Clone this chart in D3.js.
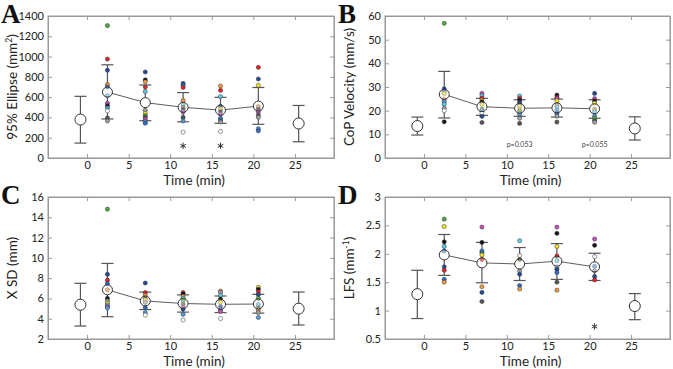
<!DOCTYPE html>
<html lang="en">
<head>
<meta charset="UTF-8">
<title>Posturography over time</title>
<script src="https://d3js.org/d3.v7.min.js"></script>
<style>
    body { margin: 0; background: #fff; }
    svg text { font-family: Lato, "Open Sans", sans-serif; fill: #222; }
    .letter { font-family: "Liberation Serif", "DejaVu Serif", serif; font-weight: bold; }
</style>
</head>
<body>
<div id="chart"></div>
<script>
// time of each measurement (min): baseline, five post-exercise, follow-up
const times = [-0.8, 2.45, 7.0, 11.55, 16.05, 20.6, 25.45];
const xTicks = [0, 5, 10, 15, 20, 25];

// one colour per subject
const subjectColors = {
    g: "#4cae3c", r: "#e8202a", n: "#1f4a9a", o: "#f39a3c", c: "#5ccbe6",
    l: "#4f9be0", b: "#2b6cc4", m: "#c74cc0", y: "#f2e41e", k: "#141414",
    d: "#555555", a: "#a0a0a0", w: "#ffffff", v: "#6b6330"
};

// A: 95% ellipse
const ellipseMean = [379, 650, 546, 500, 472, 512, 340];
const ellipseHi   = [608, 919, 720, 645, 598, 695, 518];
const ellipseLo   = [147, 385, 368, 357, 342, 332, 160];
const ellipseDots = [
    [["g",1305],["r",975],["n",865],["o",725],["b",700],["c",615],["m",540],["k",515],["l",495],["w",465],["d",395],["a",365]],
    [["n",848],["k",770],["o",752],["r",700],["c",656],["a",470],["y",440],["g",418],["d",400],["m",380],["l",358],["b",343]],
    [["n",735],["b",718],["r",695],["o",566],["c",525],["v",500],["k",478],["m",455],["d",400],["l",365],["w",255]],
    [["o",710],["r",667],["c",605],["n",508],["y",483],["k",457],["m",430],["l",391],["b",375],["a",355],["w",262]],
    [["r",894],["n",779],["y",716],["o",506],["k",480],["m",457],["d",424],["a",401],["l",289],["b",268]]
];
const ellipseStars = [[11.55, 120], [16.05, 120]];

// B: CoP velocity
const velocityMean = [13.5, 26.9, 21.7, 21.0, 21.2, 20.8, 12.5];
const velocityHi   = [17.3, 36.6, 25.2, 24.6, 24.9, 24.6, 17.4];
const velocityLo   = [9.7, 16.9, 18.0, 17.6, 17.3, 16.8, 7.6];
const velocityDots = [
    [["g",56.9],["n",29.2],["b",28.3],["y",27.3],["o",24.8],["l",23.8],["c",22.7],["a",21],["w",20],["k",15.3]],
    [["m",27.3],["c",26.3],["r",25.3],["o",24.5],["k",23.7],["y",22.7],["g",20.7],["l",19.9],["w",18.9],["n",17.6],["d",15.0]],
    [["c",26.2],["r",25.2],["k",24.5],["n",23.4],["b",22.6],["y",21.8],["o",20.3],["g",19.5],["l",18.5],["a",16.8],["d",14.6]],
    [["k",26.6],["r",25.6],["m",25.1],["y",24.2],["o",22.4],["c",21.6],["l",20.3],["b",18.9],["a",17.7],["d",15.2]],
    [["n",27.3],["m",25.1],["k",24.1],["y",23.2],["o",20.6],["c",19.5],["l",17.7],["g",16.8],["d",15.8],["a",15.1]]
];
const velocityNotes = [[11.55, 5.5, "p=0.053"], [20.6, 5.5, "p=0.055"]];

// C: X SD
const xsdMean = [5.38, 6.85, 5.75, 5.5, 5.42, 5.45, 4.99];
const xsdHi   = [7.49, 9.45, 6.62, 6.35, 6.24, 6.4, 6.63];
const xsdLo   = [3.28, 4.2, 4.9, 4.65, 4.6, 4.55, 3.38];
const xsdDots = [
    [["g",14.8],["n",8.38],["r",7.8],["b",7.45],["o",6.85],["k",6.0],["a",5.75],["y",5.55],["c",5.35],["m",5.2],["l",5.05]],
    [["n",7.52],["r",6.57],["o",6.3],["k",6.0],["y",5.85],["a",5.6],["b",5.09],["l",4.6],["w",4.35]],
    [["r",6.57],["k",6.45],["o",6.2],["c",6.0],["g",5.75],["v",5.4],["m",5.12],["n",4.95],["l",4.43],["w",3.87]],
    [["o",6.72],["a",6.6],["c",6.3],["k",5.94],["y",5.62],["n",5.2],["b",4.85],["m",4.72],["w",4.02]],
    [["y",7.1],["k",6.9],["r",6.65],["n",6.37],["g",6.0],["c",5.4],["d",5.1],["o",4.85],["a",4.6],["l",4.12]]
];

// D: LFS
const lfsMean = [1.29, 1.98, 1.84, 1.82, 1.87, 1.77, 1.08];
const lfsHi   = [1.71, 2.34, 2.2, 2.11, 2.18, 2.01, 1.30];
const lfsLo   = [0.86, 1.62, 1.49, 1.53, 1.55, 1.53, 0.84];
const lfsDots = [
    [["g",2.61],["y",2.48],["k",2.21],["c",2.13],["l",2.05],["n",1.77],["r",1.71],["b",1.55],["o",1.5]],
    [["m",2.47],["k",2.2],["l",2.05],["b",2.02],["y",1.98],["r",1.9],["o",1.42],["n",1.32],["d",1.16]],
    [["c",2.23],["w",1.97],["v",1.9],["a",1.7],["n",1.64],["b",1.44],["o",1.38]],
    [["m",2.47],["k",2.36],["y",2.13],["r",1.96],["c",1.88],["w",1.77],["n",1.73],["b",1.67],["d",1.5],["o",1.36]],
    [["m",2.26],["k",2.15],["w",1.95],["l",1.78],["a",1.7],["n",1.6],["r",1.54]]
];
const lfsStars = [[20.6, 0.72]];

const panels = [
    {letter: "A", box: [48, 334, 16, 158], yDomain: [0, 1400], yTicks: d3.range(0, 1401, 200),
     label: ["95% Ellipse (mm", "2", ")"], mean: ellipseMean, hi: ellipseHi, lo: ellipseLo,
     dots: ellipseDots, stars: ellipseStars, notes: []},
    {letter: "B", box: [385, 670, 16, 158], yDomain: [0, 60], yTicks: d3.range(0, 61, 10),
     label: ["CoP Velocity (mm/s)"], mean: velocityMean, hi: velocityHi, lo: velocityLo,
     dots: velocityDots, stars: [], notes: velocityNotes},
    {letter: "C", box: [48, 334, 197, 339], yDomain: [2, 16], yTicks: d3.range(2, 17, 2),
     label: ["X SD (mm)"], mean: xsdMean, hi: xsdHi, lo: xsdLo,
     dots: xsdDots, stars: [], notes: []},
    {letter: "D", box: [385, 670, 197, 339], yDomain: [0.5, 3], yTicks: [0.5, 1, 1.5, 2, 2.5, 3],
     label: ["LFS (mm", "-1", ")"], mean: lfsMean, hi: lfsHi, lo: lfsLo,
     dots: lfsDots, stars: lfsStars, notes: []}
];

const svg = d3.select("#chart").append("svg")
    .attr("width", 673)
    .attr("height", 369);

panels.forEach(p => {
    const [left, right, top, bottom] = p.box;
    const x = d3.scaleLinear().domain([-4.7, 29.7]).range([left, right]);
    const y = d3.scaleLinear().domain(p.yDomain).range([bottom, top]);
    const g = svg.append("g");

    // box with inward ticks on all sides
    const tickLen = 4;
    g.append("g").attr("transform", `translate(0,${bottom})`)
        .call(d3.axisBottom(x).tickValues(xTicks).tickSizeInner(-tickLen).tickSizeOuter(0).tickPadding(3))
        .call(a => a.selectAll("text").attr("font-size", 11).style("fill", "#222"));
    g.append("g").attr("transform", `translate(0,${top})`)
        .call(d3.axisTop(x).tickValues(xTicks).tickSizeInner(-tickLen).tickSizeOuter(0).tickFormat(""));
    g.append("g").attr("transform", `translate(${left},0)`)
        .call(d3.axisLeft(y).tickValues(p.yTicks).tickSizeInner(-tickLen).tickSizeOuter(0).tickPadding(4).tickFormat(d3.format("")))
        .call(a => a.selectAll("text").attr("font-size", 11).style("fill", "#222"));
    g.append("g").attr("transform", `translate(${right},0)`)
        .call(d3.axisRight(y).tickValues(p.yTicks).tickSizeInner(-tickLen).tickSizeOuter(0).tickFormat(""));
    g.selectAll(".domain").attr("stroke", "#999");
    g.selectAll(".tick line").attr("stroke", "#999");
    g.append("rect")
        .attr("x", left).attr("y", top)
        .attr("width", right - left).attr("height", bottom - top)
        .attr("fill", "none").attr("stroke", "#999");

    // axis titles
    g.append("text")
        .attr("x", (left + right) / 2 + 3)
        .attr("y", bottom + 27)
        .attr("text-anchor", "middle")
        .attr("font-size", 13.5)
        .text("Time (min)");
    const yl = g.append("text")
        .attr("transform", `translate(${left - 31},${(top + bottom) / 2}) rotate(-90)`)
        .attr("text-anchor", "middle")
        .attr("font-size", 13.5);
    yl.append("tspan").text(p.label[0]);
    if (p.label.length > 1) {
        yl.append("tspan").attr("dy", -5).attr("font-size", 8.5).text(p.label[1]);
        yl.append("tspan").attr("dy", 5).text(p.label[2]);
    }

    g.append("text")
        .attr("class", "letter")
        .attr("x", left - 47)
        .attr("y", top + 7)
        .attr("font-size", 27)
        .style("fill", "#111")
        .text(p.letter);

    // error bars
    const cap = 6;
    times.forEach((t, i) => {
        const cx = x(t);
        g.append("line").attr("x1", cx).attr("x2", cx)
            .attr("y1", y(p.lo[i])).attr("y2", y(p.hi[i]))
            .attr("stroke", "#555").attr("stroke-width", 1.2);
        [p.lo[i], p.hi[i]].forEach(v => {
            g.append("line").attr("x1", cx - cap).attr("x2", cx + cap)
                .attr("y1", y(v)).attr("y2", y(v))
                .attr("stroke", "#555").attr("stroke-width", 1.2);
        });
    });

    // line through post-exercise means
    const exTimes = times.slice(1, 6);
    const exMeans = p.mean.slice(1, 6);
    g.append("path")
        .datum(exTimes.map((t, i) => [t, exMeans[i]]))
        .attr("fill", "none")
        .attr("stroke", "#333")
        .attr("stroke-width", 0.8)
        .attr("d", d3.line().x(d => x(d[0])).y(d => y(d[1])));

    // baseline and follow-up means
    g.selectAll(".endMean")
        .data([0, 6])
        .join("circle")
        .attr("cx", i => x(times[i]))
        .attr("cy", i => y(p.mean[i]))
        .attr("r", 5.5)
        .attr("fill", "#fff")
        .attr("stroke", "#333")
        .attr("stroke-width", 1);

    // white backing for the post-exercise means
    g.selectAll(".exMeanBg")
        .data(exTimes)
        .join("circle")
        .attr("cx", t => x(t))
        .attr("cy", (t, i) => y(exMeans[i]))
        .attr("r", 5)
        .attr("fill", "#fff");

    // individual subjects
    p.dots.forEach((list, i) => {
        g.selectAll(null)
            .data(list)
            .join("circle")
            .attr("cx", x(exTimes[i]))
            .attr("cy", d => y(d[1]))
            .attr("r", 2.1)
            .attr("fill", d => subjectColors[d[0]])
            .attr("stroke", "#333")
            .attr("stroke-width", 0.5);
    });

    // outline of the post-exercise means, drawn over the dots
    g.selectAll(".exMean")
        .data(exTimes)
        .join("circle")
        .attr("cx", t => x(t))
        .attr("cy", (t, i) => y(exMeans[i]))
        .attr("r", 5)
        .attr("fill", "rgba(255,255,255,0.35)")
        .attr("stroke", "#333")
        .attr("stroke-width", 1);

    // significance markers
    const star = d3.symbol().type(d3.symbolAsterisk || d3.symbolTimes).size(28);
    g.selectAll(".star")
        .data(p.stars)
        .join("path")
        .attr("transform", d => `translate(${x(d[0])},${y(d[1])})`)
        .attr("d", star)
        .attr("fill", "none")
        .attr("stroke", "#333")
        .attr("stroke-width", 1);

    g.selectAll(".note")
        .data(p.notes)
        .join("text")
        .attr("x", d => x(d[0]))
        .attr("y", d => y(d[1]) + 2.5)
        .attr("text-anchor", "middle")
        .attr("font-size", 7)
        .style("fill", "#444")
        .text(d => d[2]);
});
</script>
</body>
</html>
